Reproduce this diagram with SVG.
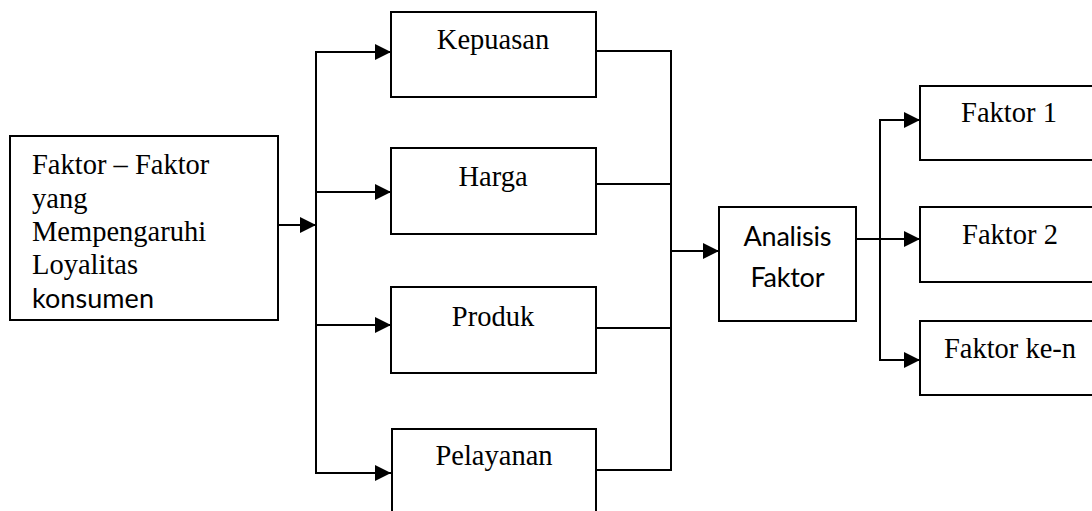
<svg xmlns="http://www.w3.org/2000/svg" width="1092" height="511" viewBox="0 0 1092 511">
<style>
.box{fill:#fff;stroke:#000;stroke-width:2}
.ln{fill:none;stroke:#000;stroke-width:2}
.ser{font-family:"Liberation Serif","Times New Roman",serif;font-size:28.5px;fill:#000}
.san{font-family:Lato,"Open Sans",sans-serif;font-size:27px;fill:#000}
</style>
<defs>
<marker id="ah" markerUnits="userSpaceOnUse" markerWidth="16" markerHeight="16" refX="15" refY="7.5" orient="auto" viewBox="0 0 15 15">
<path d="M0,0 L15,7.5 L0,15 Z" fill="#000"/>
</marker>
</defs>
<rect width="1092" height="511" fill="#fff"/>
<g id="connectors">
<line class="ln" x1="278" y1="225" x2="316" y2="225" marker-end="url(#ah)"/>
<line class="ln" x1="316" y1="51" x2="316" y2="474"/>
<line class="ln" x1="315" y1="52" x2="391" y2="52" marker-end="url(#ah)"/>
<line class="ln" x1="315" y1="192" x2="391" y2="192" marker-end="url(#ah)"/>
<line class="ln" x1="315" y1="325" x2="391" y2="325" marker-end="url(#ah)"/>
<line class="ln" x1="315" y1="473" x2="391" y2="473" marker-end="url(#ah)"/>
<polyline class="ln" points="596,51 671,51 671,470 596,470"/>
<line class="ln" x1="596" y1="184" x2="671" y2="184"/>
<line class="ln" x1="596" y1="328" x2="671" y2="328"/>
<line class="ln" x1="671" y1="251" x2="719" y2="251" marker-end="url(#ah)"/>
<line class="ln" x1="856" y1="239" x2="920" y2="239" marker-end="url(#ah)"/>
<polyline class="ln" points="920,120 880,120 880,360 920,360" marker-start="none"/>
<line class="ln" x1="880" y1="120" x2="920" y2="120" marker-end="url(#ah)"/>
<line class="ln" x1="880" y1="360" x2="920" y2="360" marker-end="url(#ah)"/>
</g>
<g id="n-faktor">
<rect class="box" x="10" y="136" width="268" height="184"/>
<text class="ser" x="32" y="174">Faktor – Faktor</text>
<text class="ser" x="32" y="208">yang</text>
<text class="ser" x="32" y="241">Mempengaruhi</text>
<text class="ser" x="32" y="274">Loyalitas</text>
<text class="san" x="32" y="308" textLength="122">konsumen</text>
</g>
<g id="n-kepuasan">
<rect class="box" x="391" y="12" width="205" height="85"/>
<text class="ser" x="493" y="49" text-anchor="middle">Kepuasan</text>
</g>
<g id="n-harga">
<rect class="box" x="391" y="148" width="205" height="86"/>
<text class="ser" x="493" y="186" text-anchor="middle">Harga</text>
</g>
<g id="n-produk">
<rect class="box" x="391" y="287" width="205" height="86"/>
<text class="ser" x="493" y="326" text-anchor="middle">Produk</text>
</g>
<g id="n-pelayanan">
<rect class="box" x="392" y="429" width="204" height="100"/>
<text class="ser" x="494" y="465" text-anchor="middle">Pelayanan</text>
</g>
<g id="n-analisis">
<rect class="box" x="719" y="207" width="137" height="114"/>
<text class="san" x="787.5" y="246" text-anchor="middle" textLength="88">Analisis</text>
<text class="san" x="787.5" y="287" text-anchor="middle" textLength="74">Faktor</text>
</g>
<g id="n-faktor1">
<rect class="box" x="920" y="86" width="190" height="74"/>
<text class="ser" x="1009" y="122" text-anchor="middle">Faktor 1</text>
</g>
<g id="n-faktor2">
<rect class="box" x="920" y="207" width="190" height="75"/>
<text class="ser" x="1010" y="244" text-anchor="middle">Faktor 2</text>
</g>
<g id="n-faktorn">
<rect class="box" x="920" y="321" width="190" height="74"/>
<text class="ser" x="1010" y="358" text-anchor="middle">Faktor ke-n</text>
</g>
</svg>
